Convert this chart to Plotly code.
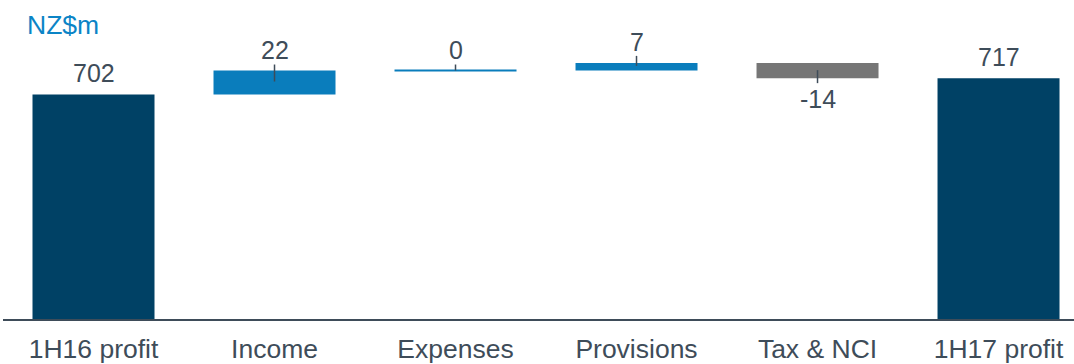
import plotly.graph_objects as go

# Profit bridge, NZ$m
categories = ["1H16 profit", "Income", "Expenses", "Provisions", "Tax & NCI", "1H17 profit"]
kinds = ["total", "delta", "delta", "delta", "delta", "total"]
values = [702, 22, 0, 7, -14, 717]
labels = ["702", "22", "0", "7", "-14", "717"]

NAVY = "#004165"
BLUE = "#0a7dbc"
GREY = "#767676"
TEXT = "#3e4c59"
FONT = "Liberation Sans, Arial, sans-serif"

# stacked bases for the bridge
bases, heights, colors = [], [], []
running = 0
for k, v in zip(kinds, values):
    if k == "total":
        bases.append(0)
        heights.append(v)
        colors.append(NAVY)
        running = v
    else:
        bases.append(running)
        heights.append(v)
        colors.append(BLUE if v >= 0 else GREY)
        running += v

line_w = [2 if (k == "delta" and v == 0) else 0 for k, v in zip(kinds, values)]

fig = go.Figure(go.Bar(
    x=list(range(len(categories))),
    y=heights,
    base=bases,
    marker=dict(color=colors, line=dict(color=colors, width=line_w)),
    width=0.674,
    hoverinfo="skip",
))

# value labels and small leader ticks
tick_span = {1: (-11, 6), 2: (0, 6), 3: (-3, 7), 4: (8, -5)}
for i, (k, v, lab) in enumerate(zip(kinds, values, labels)):
    top = bases[i] + max(heights[i], 0)
    bottom = bases[i] + min(heights[i], 0)
    if v >= 0:
        fig.add_annotation(x=i, y=top, text=lab, showarrow=False, yanchor="bottom",
                           yshift=5, font=dict(size=25, color=TEXT, family=FONT))
        anchor = top
    else:
        fig.add_annotation(x=i, y=bottom, text=lab, showarrow=False, yanchor="top",
                           yshift=-5, font=dict(size=25, color=TEXT, family=FONT))
        anchor = bottom
    if i in tick_span:
        y0, y1 = tick_span[i]
        fig.add_shape(type="line", xref="x", yref="y", x0=i, x1=i,
                      ysizemode="pixel", yanchor=anchor, y0=y0, y1=y1,
                      line=dict(color=TEXT, width=1.5))

fig.add_annotation(xref="paper", yref="paper", x=0.024, y=1.0, xanchor="left", yanchor="middle",
                   xshift=-4, yshift=-25, text="NZ$m", showarrow=False,
                   font=dict(size=26.5, color="#0b84c6", family=FONT))

fig.update_layout(
    width=1074, height=364,
    margin=dict(l=3, r=0, t=0, b=45),
    paper_bgcolor="white", plot_bgcolor="white",
    showlegend=False,
    bargap=0.326,
    xaxis=dict(range=[-0.5, 5.417], tickmode="array", tickvals=list(range(len(categories))),
               ticktext=categories, showline=True, linecolor=TEXT, linewidth=2,
               showgrid=False, zeroline=False, ticks="", automargin=False,
               ticklabelstandoff=5,
               tickfont=dict(size=26.5, color=TEXT, family=FONT)),
    yaxis=dict(range=[496, 788.7], visible=False, showgrid=False, zeroline=False,
               automargin=False),
)

fig.write_html("out.html")
